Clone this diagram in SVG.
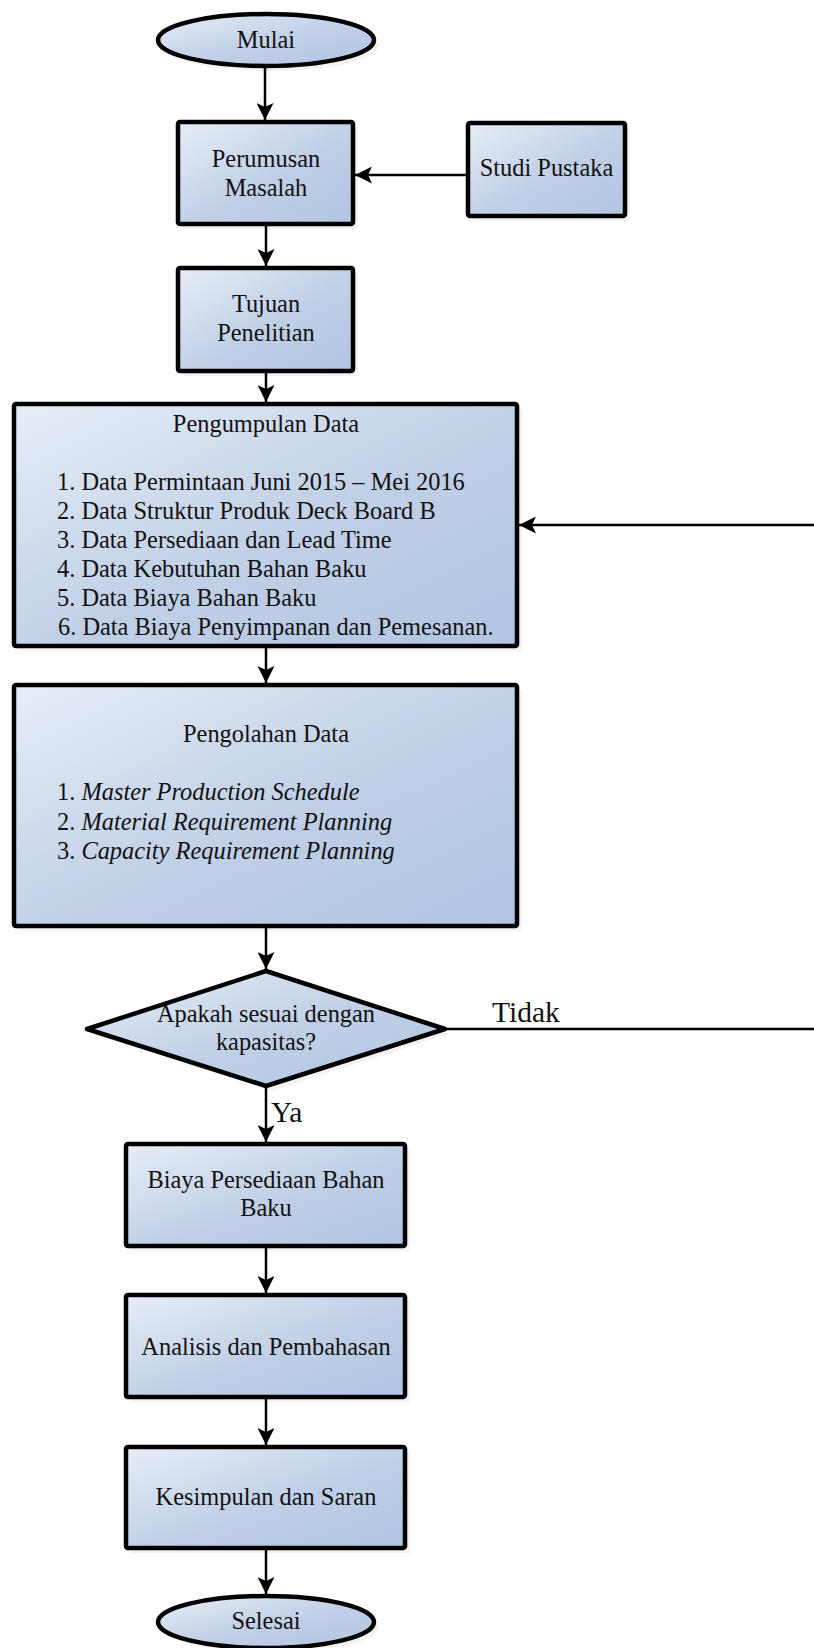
<svg xmlns="http://www.w3.org/2000/svg" width="814" height="1648" viewBox="0 0 814 1648">
<defs>
<linearGradient id="fillGrad" x1="0" y1="0" x2="1" y2="1">
<stop offset="0" stop-color="#e7edf7"/>
<stop offset="0.55" stop-color="#bfcfe6"/>
<stop offset="1" stop-color="#b2c5e1"/>
</linearGradient>
<marker id="arrow" markerUnits="userSpaceOnUse" markerWidth="18" markerHeight="17" refX="17" refY="8.5" orient="auto" viewBox="0 0 18 17">
<path d="M0,0 L17,8.5 L0,17 L4,8.5 z" fill="#000"/>
</marker>
</defs>
<style>
.box{fill:url(#fillGrad);stroke:#000;stroke-width:4.5;stroke-linejoin:round}
.shadow{fill:#000;opacity:0.05}
.t{font-family:"Liberation Serif","Times New Roman",serif;font-size:24.4px;fill:#111}
.c{text-anchor:middle}
.lbl{font-family:"Liberation Serif","Times New Roman",serif;font-size:29.5px;fill:#111}
.conn{fill:none;stroke:#000;stroke-width:2.5}
</style>
<rect width="814" height="1648" fill="#fff"/>

<g id="mulai">
<ellipse class="shadow" cx="271" cy="45" rx="108" ry="26"/>
<ellipse class="box" cx="266" cy="40" rx="108" ry="26"/>
<text class="t c" x="266" y="48">Mulai</text>
</g>

<g id="perumusan">
<rect class="shadow" x="183" y="127" width="175" height="102"/>
<rect class="box" x="178" y="122" width="175" height="102" rx="2"/>
<text class="t c" x="266" y="167">Perumusan</text>
<text class="t c" x="266" y="196">Masalah</text>
</g>

<g id="studi">
<rect class="shadow" x="473" y="128" width="157" height="93"/>
<rect class="box" x="468" y="123" width="157" height="93" rx="2"/>
<text class="t c" x="546.5" y="176">Studi Pustaka</text>
</g>

<g id="tujuan">
<rect class="shadow" x="183" y="273" width="175" height="103"/>
<rect class="box" x="178" y="268" width="175" height="103" rx="2"/>
<text class="t c" x="266" y="312">Tujuan</text>
<text class="t c" x="266" y="341">Penelitian</text>
</g>

<g id="pengumpulan">
<rect class="shadow" x="19" y="409" width="503" height="242"/>
<rect class="box" x="14" y="404" width="503" height="242" rx="2"/>
<text class="t c" x="266" y="432">Pengumpulan Data</text>
<text class="t" x="57" y="490">1. Data Permintaan Juni 2015 – Mei 2016</text>
<text class="t" x="57" y="519">2. Data Struktur Produk Deck Board B</text>
<text class="t" x="57" y="548">3. Data Persediaan dan Lead Time</text>
<text class="t" x="57" y="577">4. Data Kebutuhan Bahan Baku</text>
<text class="t" x="57" y="606">5. Data Biaya Bahan Baku</text>
<text class="t" x="58" y="635">6. Data Biaya Penyimpanan dan Pemesanan.</text>
</g>

<g id="pengolahan">
<rect class="shadow" x="19" y="690" width="503" height="241"/>
<rect class="box" x="14" y="685" width="503" height="241" rx="2"/>
<text class="t c" x="266" y="742">Pengolahan Data</text>
<text class="t" x="57" y="800">1. <tspan font-style="italic">Master Production Schedule</tspan></text>
<text class="t" x="57" y="830">2. <tspan font-style="italic">Material Requirement Planning</tspan></text>
<text class="t" x="57" y="859">3. <tspan font-style="italic">Capacity Requirement Planning</tspan></text>
</g>

<g id="keputusan">
<polygon class="shadow" points="271,976 450,1034 271,1091 92,1034"/>
<polygon class="box" points="266,971 445,1029 266,1086 87,1029"/>
<text class="t c" x="266" y="1022">Apakah sesuai dengan</text>
<text class="t c" x="266" y="1050">kapasitas?</text>
</g>

<g id="biaya">
<rect class="shadow" x="131" y="1149" width="279" height="102"/>
<rect class="box" x="126" y="1144" width="279" height="102" rx="2"/>
<text class="t c" x="266" y="1188">Biaya Persediaan Bahan</text>
<text class="t c" x="266" y="1216">Baku</text>
</g>

<g id="analisis">
<rect class="shadow" x="131" y="1300" width="279" height="102"/>
<rect class="box" x="126" y="1295" width="279" height="102" rx="2"/>
<text class="t c" x="266" y="1355">Analisis dan Pembahasan</text>
</g>

<g id="kesimpulan">
<rect class="shadow" x="131" y="1452" width="279" height="101"/>
<rect class="box" x="126" y="1447" width="279" height="101" rx="2"/>
<text class="t c" x="266" y="1505">Kesimpulan dan Saran</text>
</g>

<g id="selesai">
<ellipse class="shadow" cx="271" cy="1627" rx="108" ry="26"/>
<ellipse class="box" cx="266" cy="1622" rx="108" ry="26"/>
<text class="t c" x="266" y="1629">Selesai</text>
</g>

<g id="connectors">
<path class="conn" d="M265,66 L265,120" marker-end="url(#arrow)"/>
<path class="conn" d="M466,175 L355,175" marker-end="url(#arrow)"/>
<path class="conn" d="M266,226 L266,266" marker-end="url(#arrow)"/>
<path class="conn" d="M266,373 L266,402" marker-end="url(#arrow)"/>
<path class="conn" d="M266,648 L266,683" marker-end="url(#arrow)"/>
<path class="conn" d="M266,928 L266,969" marker-end="url(#arrow)"/>
<path class="conn" d="M266,1088 L266,1142" marker-end="url(#arrow)"/>
<path class="conn" d="M266,1248 L266,1293" marker-end="url(#arrow)"/>
<path class="conn" d="M266,1399 L266,1445" marker-end="url(#arrow)"/>
<path class="conn" d="M266,1550 L266,1594" marker-end="url(#arrow)"/>
<path class="conn" d="M447,1029 H830 V525 H519" marker-end="url(#arrow)"/>
<text class="lbl" x="492" y="1022">Tidak</text>
<text class="lbl" x="271" y="1122">Ya</text>
</g>
</svg>
